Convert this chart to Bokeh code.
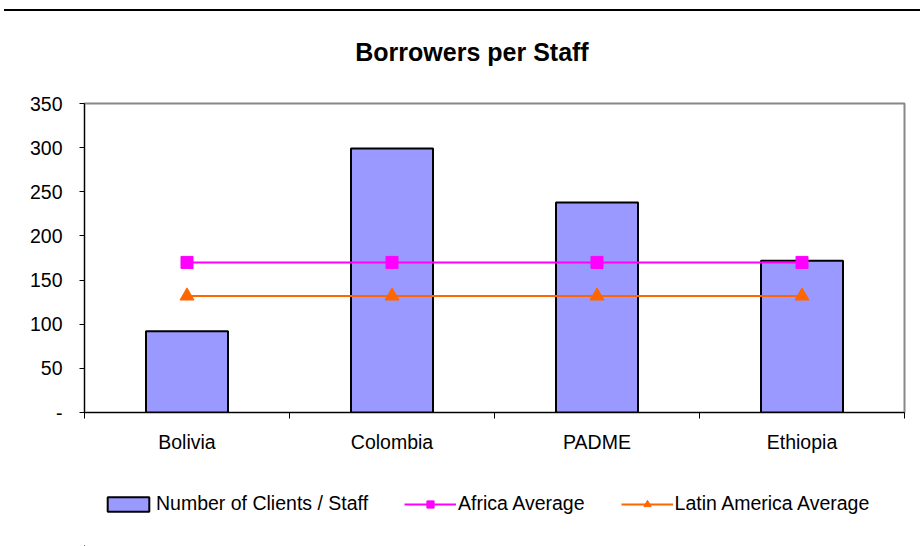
from bokeh.plotting import figure
from bokeh.models import (ColumnDataSource, FixedTicker, Range1d, Legend, LegendItem, Div)
from bokeh.layouts import column
from bokeh.embed import file_html
from bokeh.resources import INLINE

title_text = "Borrowers per Staff"
categories = ["Bolivia", "Colombia", "PADME", "Ethiopia"]
clients_per_staff = [92, 299, 238, 172]
africa_average = [170, 170, 170, 170]
latin_america_average = [132, 132, 132, 132]
y_ticks = [0, 50, 100, 150, 200, 250, 300, 350]
series_names = ["Number of Clients / Staff", "Africa Average", "Latin America Average"]

BAR_FILL = "#9999FF"
AFRICA = "#FF00FF"
LATIN = "#FF6600"
FONT = "Liberation Sans"
FS = "19.5px"

x = [i + 0.5 for i in range(len(categories))]
src = ColumnDataSource(dict(x=x, cat=categories, v=clients_per_staff,
                            af=africa_average, la=latin_america_average))


def draw_series(fig):
    bars = fig.vbar(x="x", top="v", width=0.4, bottom=0, source=src,
                    fill_color=BAR_FILL, line_color="black", line_width=2)
    l1 = fig.line("x", "af", source=src, line_color=AFRICA, line_width=2)
    m1 = fig.scatter("x", "af", source=src, marker="square", size=12,
                     fill_color=AFRICA, line_color=AFRICA)
    l2 = fig.line("x", "la", source=src, line_color=LATIN, line_width=2)
    m2 = fig.scatter("x", "la", source=src, marker="triangle", size=14,
                     fill_color=LATIN, line_color=LATIN)
    return bars, l1, m1, l2, m2


# ---- title + top rule (HTML header) ----
title_div = Div(
    text=('<div style="width:400px; margin-left:268px; padding-top:26px; text-align:center; '
          "font-family:'Liberation Sans', Arial, sans-serif; font-weight:bold; font-size:25px; "
          'line-height:30px; color:black; white-space:nowrap;">' + title_text + '</div>'),
    width=916, height=84, margin=(9, 0, 0, 4),
    styles={"border-top": "2px solid black"})

# ---- main chart ----
p = figure(width=920, height=369, frame_width=820, frame_height=309,
           min_border_left=84, min_border_right=16, min_border_top=10, min_border_bottom=50,
           x_range=Range1d(0, len(categories)), y_range=Range1d(0, 350),
           output_backend="svg", toolbar_location=None, title=None)
draw_series(p)

p.xgrid.visible = False
p.ygrid.visible = False
p.outline_line_color = "#888888"
p.outline_line_width = 2
p.background_fill_color = "white"
p.border_fill_color = "white"

xa = p.xaxis[0]
xa.ticker = FixedTicker(ticks=x, minor_ticks=list(range(len(categories) + 1)))
xa.major_label_overrides = {xi: c for xi, c in zip(x, categories)}
xa.major_tick_out = 0
xa.major_tick_in = 0
xa.minor_tick_out = 6
xa.minor_tick_in = 0
xa.minor_tick_line_color = "black"
xa.axis_line_color = "black"
xa.major_label_text_font = FONT
xa.major_label_text_font_size = FS
xa.major_label_text_color = "black"
xa.major_label_standoff = 12

ya = p.yaxis[0]
ya.ticker = FixedTicker(ticks=y_ticks)
ya.major_label_overrides = {0: "-"}
ya.major_tick_out = 5
ya.major_tick_in = 0
ya.minor_tick_out = 0
ya.minor_tick_in = 0
ya.axis_line_color = "black"
ya.major_label_text_font = FONT
ya.major_label_text_font_size = FS
ya.major_label_text_color = "black"
ya.major_label_standoff = 17

# ---- legend strip: same series, drawn outside this strip's visible range ----
lf = figure(width=920, height=84, x_range=Range1d(100, 101), y_range=Range1d(1000, 1001),
            min_border=0, x_axis_location=None, y_axis_location=None,
            output_backend="svg", toolbar_location=None, title=None)
lf.xgrid.visible = False
lf.ygrid.visible = False
lf.outline_line_color = None
lf.background_fill_color = "white"
lf.border_fill_color = "white"
r_bar, r_l1, r_m1, r_l2, r_m2 = draw_series(lf)

legend = Legend(items=[
    LegendItem(label=series_names[0], renderers=[r_bar]),
    LegendItem(label=series_names[1], renderers=[r_l1, r_m1]),
    LegendItem(label=series_names[2], renderers=[r_l2, r_m2]),
], orientation="horizontal", location=(18, 31))
legend.label_text_font = FONT
legend.label_text_font_size = FS
legend.label_text_color = "black"
legend.label_standoff = 2
legend.glyph_width = 52
legend.glyph_height = 18
legend.label_height = 22
legend.spacing = 36
legend.padding = 0
legend.margin = 0
legend.border_line_color = None
legend.background_fill_alpha = 0
lf.add_layout(legend, "center")

layout = column(title_div, p, lf, spacing=0)
open("out.html", "w").write(file_html(layout, INLINE))
